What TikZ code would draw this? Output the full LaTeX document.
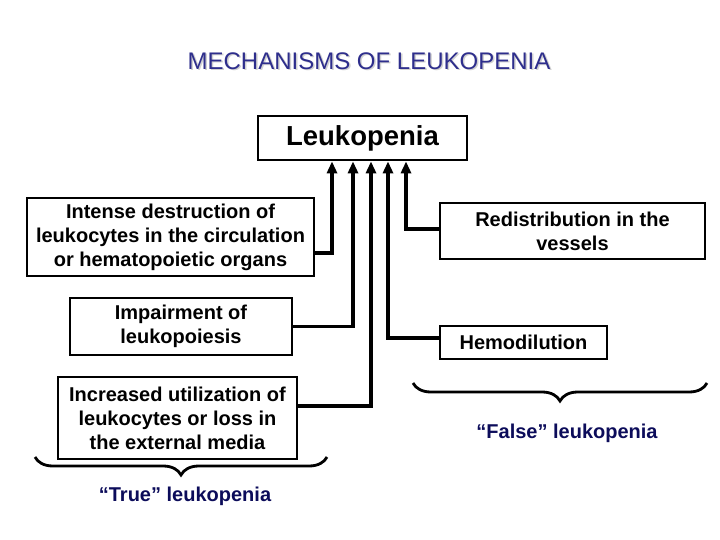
\documentclass[tikz,border=0pt]{standalone}
\usepackage{fontspec}
\setmainfont{Liberation Sans}
\usetikzlibrary{arrows.meta, decorations.pathreplacing}
\definecolor{titleblue}{RGB}{46,46,140}
\definecolor{labelnavy}{RGB}{12,12,90}
\tikzset{
cause/.style={
       rectangle,
       draw=black,
       line width=2.8pt,
       align=center,
       font=\bfseries\fontsize{20}{24}\selectfont,
%       rounded corners,
       inner sep=0pt,
       },
link/.style={
       line width=3.4pt,
       -{Triangle[width=10pt,length=12pt]},
       },
bracket/.style={
       decorate,
       decoration={brace, mirror, amplitude=18pt},
       line width=2.8pt,
       },
kind/.style={
       text=labelnavy,
       font=\bfseries\fontsize{20}{24}\selectfont,
       }
}

\begin{document}
\begin{tikzpicture}[x=1pt, y=-1pt]
      \useasboundingbox (0,0) rectangle (720,540);
      % Title with its shadow
      \node [text=black!18, font=\fontsize{24}{28}\selectfont] (shadow) at (370.5,62.5) {MECHANISMS OF LEUKOPENIA};
      \node [text=titleblue, font=\fontsize{24}{28}\selectfont] (title) at (369,61) {MECHANISMS OF LEUKOPENIA};

      \node [cause, minimum width=209pt, minimum height=44pt,
             font=\bfseries\fontsize{27.5}{30}\selectfont] (leuko) at (362.5,138) {Leukopenia};

      % True causes
      \node [cause, minimum width=287pt, minimum height=78pt] (destr) at (170.5,237) {
                Intense destruction of\\leukocytes in the circulation\\or hematopoietic organs};
      \node [cause, minimum width=222pt, minimum height=57pt] (impair) at (181,326.5) {
                Impairment of\\leukopoiesis};
      \node [cause, minimum width=239pt, minimum height=82pt] (util) at (177.5,418) {
                Increased utilization of\\leukocytes or loss in\\the external media};

      % False causes
      \node [cause, minimum width=265pt, minimum height=56pt] (redist) at (572.5,231) {
                Redistribution in the\\vessels};
      \node [cause, minimum width=167pt, minimum height=33pt] (hemo) at (523.5,342.5) {
                Hemodilution};

      % Draw arrows into the Leukopenia box
      \foreach \n/\side/\dy/\dx in {
          destr/east/-16/-30.5,
          impair/east/0/-9.5,
          util/east/12/8.5,
          hemo/west/4.5/25.5,
          redist/west/2/43.5
      } {
          \draw[link] ([yshift=\dy pt]\n.\side) -| ([xshift=\dx pt]leuko.south);
      }

      % Braces with their labels
      \draw[bracket] (35,457) -- (327,457);
      \draw[bracket] (413,383) -- (707,383);
      \node [kind] (truel) at (185,496) {“True” leukopenia};
      \node [kind] (falsel) at (567,433) {“False” leukopenia};
\end{tikzpicture}
\end{document}
